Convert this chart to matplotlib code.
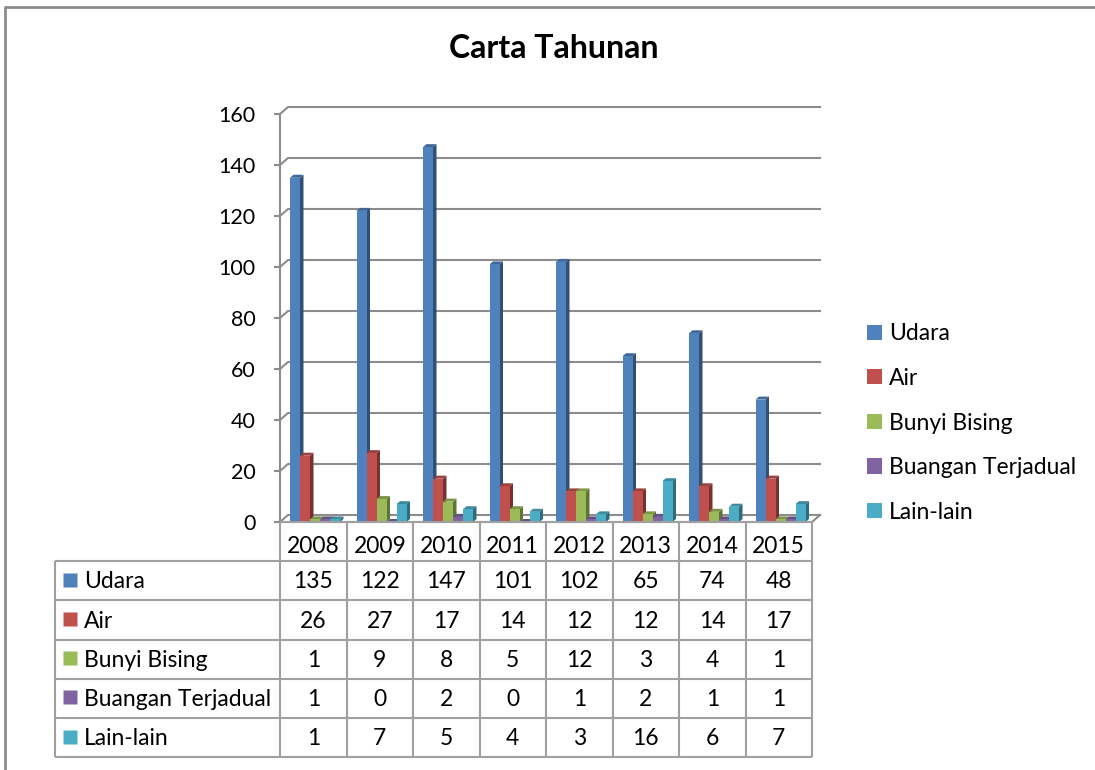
import numpy as np
import matplotlib.pyplot as plt
from matplotlib.patches import Polygon, Patch
from matplotlib.lines import Line2D
import matplotlib.colors as mcolors

plt.rcParams['font.family'] = ['Lato', 'DejaVu Sans']

years = ['2008', '2009', '2010', '2011', '2012', '2013', '2014', '2015']
series = ['Udara', 'Air', 'Bunyi Bising', 'Buangan Terjadual', 'Lain-lain']
udara = [135, 122, 147, 101, 102, 65, 74, 48]
air = [26, 27, 17, 14, 12, 12, 14, 17]
bunyi = [1, 9, 8, 5, 12, 3, 4, 1]
buangan = [1, 0, 2, 0, 1, 2, 1, 1]
lain = [1, 7, 5, 4, 3, 16, 6, 7]
data = [udara, air, bunyi, buangan, lain]
colors = ['#4F81BD', '#C0504D', '#9BBB59', '#8064A2', '#4BACC6']

W, H = 1095, 770
fig = plt.figure(figsize=(W / 100, H / 100), dpi=100)


def fx(px):
    return px / W


def fy(py):
    return 1 - py / H


def shade(c, f):
    r, g, b = mcolors.to_rgb(c)
    return (r * f, g * f, b * f)


grid_c = '#8C8C8C'
ymax = 160

# plot area (front plane)
ax = fig.add_axes([fx(280), fy(522), fx(812) - fx(280), fy(114) - fy(522)])
ax.set_xlim(-0.5, len(years) - 0.5)
ax.set_ylim(0, ymax)
xs = len(years) / 532.0   # data units per pixel
ys = ymax / 408.0
dx, dy = 8 * xs, 7 * ys   # depth of the back wall

for v in range(0, ymax + 1, 20):
    ax.plot([-0.5, -0.5 + dx, len(years) - 0.5 + dx], [v, v + dy, v + dy],
            color=grid_c, lw=1.5, clip_on=False, zorder=1)
ax.plot([-0.5, len(years) - 0.5, len(years) - 0.5 + dx], [0, 0, dy],
        color=grid_c, lw=1.5, clip_on=False, zorder=1)

# 3d-ish bars
bw, step = 10 * xs, 10 * xs
bdx, bdy = 3.5 * xs, 3 * ys
z = 2
for i in range(len(years)):
    for k, vals in enumerate(data):
        x0 = i - 0.5 + 10 * xs + k * step
        h = vals[i]
        c = colors[k]
        front = Polygon([(x0, 0), (x0 + bw, 0), (x0 + bw, h), (x0, h)],
                        closed=True, fc=c, ec='none', clip_on=False, zorder=z)
        side = Polygon([(x0 + bw, 0), (x0 + bw + bdx, bdy), (x0 + bw + bdx, h + bdy), (x0 + bw, h)],
                       closed=True, fc=shade(c, 0.62), ec='none', clip_on=False, zorder=z)
        top = Polygon([(x0, h), (x0 + bw, h), (x0 + bw + bdx, h + bdy), (x0 + bdx, h + bdy)],
                      closed=True, fc=shade(c, 0.8), ec='none', clip_on=False, zorder=z)
        for p in (side, top, front):
            ax.add_patch(p)
        z += 1

ax.set_yticks(range(0, ymax + 1, 20))
ax.set_xticks([])
for s in ['top', 'right', 'bottom']:
    ax.spines[s].set_visible(False)
ax.spines['left'].set_color(grid_c)
ax.spines['left'].set_linewidth(1.5)
ax.tick_params(axis='y', length=4.5, width=1.5, color=grid_c, pad=13, labelsize=15.5)
ax.patch.set_alpha(0)

# data table
left = -0.5 - 225 / 66.5
tax = fig.add_axes([fx(55), fy(757), fx(812) - fx(55), fy(522) - fy(757)])
tax.set_xlim(left, len(years) - 0.5)
tax.set_ylim(len(series) + 1, 0)
tax.axis('off')
tc = '#A0A0A0'
tax.hlines([0], -0.5, len(years) - 0.5, color=tc, lw=1.5, clip_on=False)
tax.hlines(range(1, len(series) + 2), left, len(years) - 0.5, color=tc, lw=1.5, clip_on=False)
tax.vlines(np.arange(len(years) + 1) - 0.5, 0, len(series) + 1, color=tc, lw=1.5, clip_on=False)
tax.vlines([left], 1, len(series) + 1, color=tc, lw=1.5, clip_on=False)
for i, yr in enumerate(years):
    tax.text(i, 0.63, yr, ha='center', va='center', fontsize=16.5)
for k, name in enumerate(series):
    r = k + 1.53
    tax.plot([left + 15 / 66.5], [r - 0.05], marker='s', ms=10.5, mec='none',
             color=colors[k], clip_on=False)
    tax.text(left + 29 / 66.5, r, name, ha='left', va='center', fontsize=16.5)
    for i, v in enumerate(data[k]):
        tax.text(i, r, str(v), ha='center', va='center', fontsize=16.5)

# legend
handles = [Patch(facecolor=c, edgecolor='none') for c in colors]
fig.legend(handles, series, loc='center left', bbox_to_anchor=(fx(867), fy(423)),
           frameon=False, fontsize=16.5, handlelength=0.65, handleheight=0.65,
           handletextpad=0.3, labelspacing=1.03, borderaxespad=0, borderpad=0)

fig.text(fx(554), fy(48), 'Carta Tahunan', ha='center', va='center',
         fontsize=23, fontweight='bold')

# outer chart border
fig.add_artist(Line2D([fx(5), fx(5), 1], [0, fy(7), fy(7)], color=grid_c, lw=2))

fig.savefig('out.png', dpi=100)
